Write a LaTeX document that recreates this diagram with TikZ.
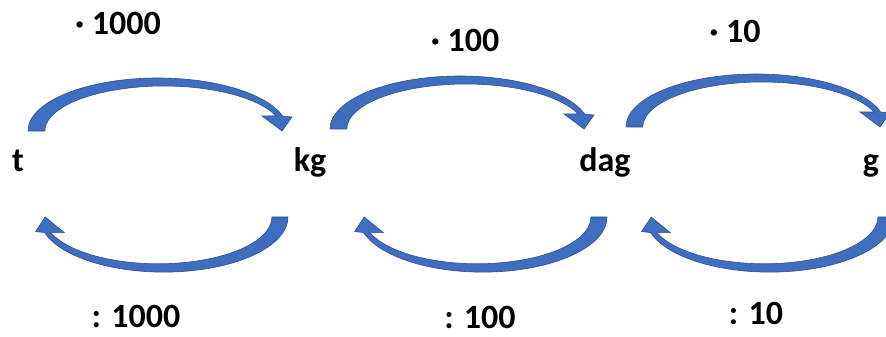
\documentclass[tikz,border=0pt]{standalone}
\usepackage{fontspec}
\setmainfont{Carlito}
\usetikzlibrary{math}
\usetikzlibrary{positioning}

\definecolor{arrowblue}{HTML}{3F6DBF}
\definecolor{arrowedge}{HTML}{2F528F}

\tikzset{
    unitlabel/.style={font=\fontsize{34}{40}\selectfont\bfseries, anchor=base, inner sep=0pt},
    factorlabel/.style={unitlabel},
    bend arrow/.pic={
        \filldraw[fill=arrowblue, draw=arrowedge, line width=0.6pt]
            (0,0) arc[start angle=180, end angle=16.4, x radius=130, y radius=53]
            -- (264,14) -- (254,0) -- (234,15) -- (248,15)
            arc[start angle=19.5, end angle=180, x radius=119, y radius=45]
            -- cycle;
    }
}

\begin{document}
\begin{tikzpicture}[x=1pt,y=1pt]
    \tikzmath{  \yu = 165 ;
                \yt = 208 ;
                \yb = 120 ;
                }
    \useasboundingbox (0,0) rectangle (886,337);
    \clip (0,0) rectangle (886,337);

    \node[unitlabel] (t) at (18,\yu) {t};
    \node[unitlabel] (kg) at (310,\yu) {kg};
    \node[unitlabel] (dag) at (605,\yu) {dag};
    \node[unitlabel] (g) at (871,\yu) {g};

    \node[factorlabel] (mul1000) at (118,302) {· 1000};
    \node[factorlabel] (mul100) at (465,285) {· 100};
    \node[factorlabel] (mul10) at (735,294) {· 10};
    \node[factorlabel] (div1000) at (136,9) {: 1000};
    \node[factorlabel] (div100) at (480,8) {: 100};
    \node[factorlabel] (div10) at (756,12) {: 10};

    % multiply: left to right, above
    \pic at (28,\yt-2) {bend arrow};
    \pic at (330,\yt) {bend arrow};
    \pic at (626,\yt+2) {bend arrow};

    % divide: right to left, below
    \pic[rotate=180, xscale=0.956, yscale=1.04] at (288,\yb) {bend arrow};
    \pic[rotate=180, xscale=0.956, yscale=1.04] at (607,\yb) {bend arrow};
    \pic[rotate=180, xscale=0.956, yscale=1.04] at (894,\yb) {bend arrow};
\end{tikzpicture}
\end{document}
